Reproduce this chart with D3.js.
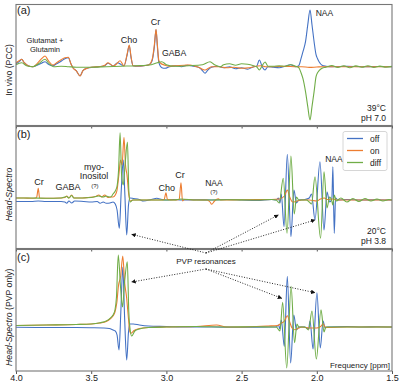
<!DOCTYPE html>
<html>
<head>
<meta charset="utf-8">
<script src="https://cdn.jsdelivr.net/npm/d3@7"></script>
<style>
body { margin: 0; background: #fff; }
text { font-family: "Liberation Sans", Arial, sans-serif; fill: #222; }
</style>
</head>
<body>
<script>
// spectra: [ppm, amplitude (a.u.)]
// (a) in vivo PCC
let offA = [[4.000,3],[3.975,5.5],[3.962,7.4],[3.945,4],[3.920,1],[3.887,0],[3.860,1.5],[3.830,3.5],[3.807,5],[3.785,2.5],[3.754,1],[3.730,3],[3.700,5.5],[3.675,8],[3.652,9],[3.635,3],[3.621,-1],[3.600,-4],[3.574,-9],[3.555,-4],[3.528,-1.5],[3.488,-0.5],[3.450,0],[3.410,1],[3.388,3.5],[3.353,0.7],[3.325,4],[3.300,2],[3.282,1],[3.262,11],[3.247,21],[3.235,9],[3.222,1],[3.190,0.5],[3.150,1],[3.115,2],[3.095,6],[3.080,20],[3.069,37],[3.060,20],[3.050,4],[3.030,-1],[3.009,-1.6],[2.980,0],[2.940,0.8],[2.900,0],[2.860,1.5],[2.820,0.5],[2.780,-1],[2.760,-4],[2.743,-6.6],[2.725,-3.5],[2.700,-0.5],[2.660,0.5],[2.620,-1],[2.580,0],[2.540,-2],[2.500,-1],[2.460,-2.5],[2.420,0],[2.400,0.5],[2.382,6.7],[2.363,0],[2.344,-3.3],[2.325,0],[2.290,-0.5],[2.250,-1],[2.210,0.5],[2.175,2],[2.140,0],[2.120,1],[2.105,8],[2.092,15],[2.075,25],[2.060,42],[2.045,56.7],[2.032,42],[2.018,25],[2.005,12],[1.995,8],[1.985,5],[1.965,1.5],[1.940,0.5],[1.900,0],[1.800,0.3],[1.700,0],[1.600,0.2],[1.500,0]];
let onA = [[4.000,4],[3.975,6.5],[3.962,7.4],[3.945,4],[3.920,1],[3.887,0],[3.860,3],[3.830,8],[3.807,10.7],[3.785,6],[3.754,1.7],[3.730,4],[3.700,7],[3.675,9],[3.652,9.4],[3.635,3],[3.621,-1.3],[3.600,-4],[3.574,-9.3],[3.555,-4],[3.528,-1.6],[3.488,-0.3],[3.450,0],[3.410,1.5],[3.388,4],[3.353,0.7],[3.330,3],[3.308,6],[3.282,0.7],[3.262,12],[3.247,21.7],[3.235,10],[3.222,1],[3.190,0.7],[3.150,1],[3.115,2],[3.095,7],[3.080,22],[3.069,37.4],[3.060,22],[3.050,6],[3.040,3.7],[3.010,1.5],[2.980,0.5],[2.940,1],[2.880,1.5],[2.843,1.7],[2.810,0.5],[2.780,-1],[2.760,-2.5],[2.743,-3.3],[2.720,-1.5],[2.700,0],[2.650,0],[2.600,-1],[2.550,-0.5],[2.500,-1.5],[2.450,-1],[2.400,0.5],[2.370,1],[2.340,0],[2.300,0],[2.200,0.3],[2.150,0],[2.100,0],[2.050,-0.7],[2.000,-0.3],[1.950,0],[1.800,0],[1.500,0]];
let diffA = [[4.000,2],[3.962,4],[3.930,1],[3.887,0],[3.850,3],[3.807,7.4],[3.780,3],[3.750,0],[3.700,0.5],[3.650,0],[3.600,-0.5],[3.500,-0.5],[3.400,0],[3.300,0.5],[3.200,1],[3.100,2],[3.060,4],[3.031,5],[3.000,2],[2.950,0.5],[2.850,1],[2.760,2],[2.710,5],[2.680,2],[2.640,0],[2.620,2],[2.580,3],[2.540,1.5],[2.500,3],[2.460,2.5],[2.420,1],[2.400,0],[2.382,-3.3],[2.363,1],[2.344,4.7],[2.325,0.5],[2.290,0.5],[2.250,1],[2.210,0.5],[2.175,2],[2.140,0.5],[2.120,-1],[2.105,-6],[2.092,-12],[2.075,-25],[2.060,-40],[2.045,-53.3],[2.032,-40],[2.018,-25],[2.005,-10],[1.995,-6],[1.985,-4],[1.965,-1.5],[1.940,-0.5],[1.900,1.2],[1.860,-0.8],[1.820,1],[1.780,-1],[1.740,0.8],[1.700,-0.6],[1.660,1],[1.620,-0.8],[1.580,0.6],[1.540,-0.5],[1.500,0.3]];

// (b) Head-Spectro phantom
let offB = [[4.000,-1.5],[3.900,-1.5],[3.852,-1],[3.800,-1.5],[3.700,-1.5],[3.675,-2],[3.663,-3.3],[3.648,-1],[3.630,-3],[3.610,-1],[3.550,-1.5],[3.500,-2],[3.460,-1.5],[3.441,-3.3],[3.420,-2],[3.400,-3.3],[3.375,-3],[3.355,-2],[3.340,-4],[3.328,-10],[3.313,-28.3],[3.300,10],[3.287,40],[3.276,5],[3.264,-35],[3.252,-5],[3.242,2],[3.220,1.5],[3.180,0.5],[3.153,-1],[3.100,0.5],[3.064,1.7],[3.030,0.5],[3.000,0],[2.950,0.5],[2.900,0],[2.800,0.3],[2.700,0],[2.600,0.5],[2.500,0],[2.400,-0.5],[2.300,0.5],[2.270,0],[2.255,2],[2.245,-3],[2.236,6],[2.218,-26.7],[2.196,45.7],[2.172,-36.7],[2.152,10],[2.135,-3],[2.120,0],[2.080,0.5],[2.050,2],[2.035,6],[2.012,-20],[1.979,38.3],[1.952,-30],[1.932,8],[1.915,-2],[1.900,1],[1.893,33.3],[1.884,-33.3],[1.875,2],[1.860,0],[1.800,0.5],[1.700,0],[1.600,0.3],[1.500,0]];
let onB = [[4.000,2],[3.950,2],[3.900,1.7],[3.870,2],[3.862,3],[3.852,11.7],[3.843,2],[3.800,1.7],[3.700,2],[3.675,2.5],[3.663,4],[3.648,2],[3.630,5],[3.615,2],[3.560,2],[3.520,2.5],[3.470,3.5],[3.450,5],[3.430,3],[3.410,5],[3.390,2.5],[3.370,3],[3.355,3],[3.340,5],[3.328,10],[3.316,25],[3.305,40],[3.295,35],[3.282,62.7],[3.272,35],[3.262,25],[3.250,5],[3.240,-1],[3.220,0],[3.100,0],[3.030,0],[3.015,0.5],[3.003,7.3],[2.993,0.5],[2.950,0],[2.915,0.5],[2.903,17.3],[2.893,-1],[2.880,0.5],[2.800,0],[2.730,0],[2.710,-2],[2.699,-4.3],[2.680,-1],[2.655,1.3],[2.640,0],[2.500,0.3],[2.300,0.5],[2.250,1],[2.215,4],[2.196,10],[2.180,3],[2.160,-2],[2.130,-1],[2.100,0],[2.050,0],[2.000,-1],[1.975,1],[1.950,2],[1.930,0.5],[1.890,1],[1.870,0],[1.800,0],[1.500,0]];
let diffB = [[4.000,2],[3.900,2],[3.800,1.7],[3.700,2],[3.663,3.5],[3.648,2],[3.630,4.5],[3.615,2],[3.500,2.5],[3.450,4],[3.420,3],[3.400,4],[3.380,3],[3.370,3],[3.355,6],[3.340,9],[3.328,14],[3.318,30],[3.308,67.3],[3.298,25],[3.287,15],[3.275,35],[3.259,58],[3.250,10],[3.240,-2],[3.225,0],[3.100,0],[2.950,0],[2.903,1],[2.800,0],[2.700,0],[2.600,0.3],[2.400,0],[2.300,0.5],[2.270,0],[2.250,-3],[2.223,21.7],[2.198,-33.3],[2.172,44],[2.150,-14],[2.135,3],[2.120,0],[2.070,0],[2.050,-2],[2.035,-4],[2.012,23.3],[1.975,-38.3],[1.952,28.3],[1.932,-8],[1.915,3],[1.900,-1],[1.893,-5],[1.884,5],[1.870,-1],[1.840,2],[1.800,-2],[1.760,1.5],[1.720,-1.5],[1.680,1.5],[1.640,-1],[1.600,1],[1.560,-1],[1.520,0.5],[1.500,0]];

// (c) Head-Spectro, PVP only
let offC = [[4.000,-0.3],[3.800,-0.5],[3.600,-0.5],[3.500,-0.7],[3.420,-1],[3.380,-1.5],[3.355,-3],[3.340,-4],[3.328,-8],[3.315,-23],[3.303,15],[3.290,60],[3.278,10],[3.264,-33],[3.252,-5],[3.242,3],[3.220,3],[3.180,2],[3.120,1],[3.000,0.5],[2.900,0],[2.700,0],[2.500,-0.3],[2.300,0],[2.270,0],[2.255,2],[2.245,-2],[2.236,7],[2.216,-19.4],[2.196,50.6],[2.174,-36],[2.153,12],[2.135,-3],[2.120,0],[2.080,0],[2.065,-1],[2.055,-2],[2.045,6],[2.025,-22],[1.999,34.3],[1.977,-21],[1.958,6],[1.945,-1],[1.930,0],[1.800,0.5],[1.700,0],[1.600,0.3],[1.500,0]];
let onC = [[4.000,1.5],[3.800,2],[3.600,2.5],[3.500,3],[3.441,4],[3.400,5.5],[3.375,8],[3.355,11],[3.342,15],[3.330,24],[3.318,42],[3.305,50],[3.290,71],[3.278,45],[3.265,30],[3.252,8],[3.245,-3],[3.237,-6.3],[3.215,-3.5],[3.180,-1.5],[3.120,-0.5],[3.000,0],[2.800,0.5],[2.666,2],[2.600,0],[2.400,0.5],[2.324,1],[2.260,1.5],[2.235,4],[2.215,6],[2.196,11.3],[2.180,5],[2.165,-1],[2.145,-2.7],[2.120,-1],[2.100,0],[2.050,-1],[2.000,-1],[1.975,0.5],[1.957,3.3],[1.945,0],[1.930,-0.5],[1.800,0],[1.500,0]];
let diffC = [[4.000,1.5],[3.800,2],[3.600,2.5],[3.500,3],[3.441,4.3],[3.400,6],[3.375,8.7],[3.355,12],[3.342,17],[3.332,30],[3.320,72],[3.305,40],[3.292,20],[3.278,45],[3.260,65.3],[3.250,15],[3.240,-4],[3.231,-9],[3.210,-4],[3.180,-2],[3.120,-0.5],[3.000,0],[2.800,0.5],[2.600,0],[2.400,0.3],[2.300,0],[2.270,0],[2.245,-4],[2.227,24.6],[2.200,-41],[2.171,40.6],[2.148,-15.7],[2.132,3],[2.120,0],[2.080,0],[2.055,-3],[2.032,16],[2.003,-32],[1.972,17.3],[1.952,-5],[1.940,0],[1.800,0],[1.500,0]];

let seriesNames = ["off", "on", "diff"];
let xTicks = [4.0, 3.5, 3.0, 2.5, 2.0, 1.5];

// where the "PVP resonances" arrows point: [panel, ppm, amplitude]
let pvpTargets = [["b",3.231,-34.3],["c",3.231,45],["b",2.256,-15],["b",2.012,-20],["c",2.233,28.7],["c",2.012,34.3]];

function main() {

    let svg = d3.select("body").append("svg")
        .attr("width", 400)
        .attr("height", 388);

    let colors = d3.scaleOrdinal().domain(seriesNames)
        .range(["#4472c4", "#ed7d31", "#70ad47"]);

    let xScale = d3.scaleLinear().domain([4.0, 1.5]).range([16, 392]);

    let panels = [
        {id: "a", top: 4.5, bottom: 125.5, domain: [-58.8, 62.2], data: [offA, onA, diffA]},
        {id: "b", top: 126.5, bottom: 248.5, domain: [-48.5, 73.5], data: [offB, onB, diffB]},
        {id: "c", top: 249.5, bottom: 371, domain: [-44, 77.5], data: [offC, onC, diffC]}
    ];
    let byId = {};

    panels.forEach(function(p) {
        byId[p.id] = p;
        p.y = d3.scaleLinear().domain(p.domain).range([p.bottom, p.top]);

        svg.append("clipPath").attr("id", "clip-" + p.id)
            .append("rect")
            .attr("x", 16).attr("y", p.top)
            .attr("width", 376).attr("height", p.bottom - p.top);

        let line = d3.line()
            .x(d => xScale(d[0]))
            .y(d => p.y(d[1]))
            .curve(d3.curveMonotoneX);

        let g = svg.append("g").attr("clip-path", `url(#clip-${p.id})`);
        g.selectAll("path")
            .data(p.data)
            .enter()
            .append("path")
            .attr("d", line)
            .attr("fill", "none")
            .attr("stroke", (d, i) => colors(seriesNames[i]))
            .attr("stroke-width", 1.1)
            .attr("stroke-linejoin", "round");

        // ticks under each panel
        let axis = svg.append("g")
            .attr("transform", `translate(0,${p.bottom})`)
            .call(d3.axisBottom(xScale).tickValues(xTicks).tickSize(3).tickPadding(1)
                .tickFormat(p.id == "c" ? d3.format(".1f") : ""));
        axis.select(".domain").remove();
        axis.selectAll("line").attr("stroke", "#555");
        axis.selectAll("text")
            .style("font-family", "'Liberation Sans', Arial, sans-serif")
            .style("font-size", "9px")
            .attr("fill", "#222");

        svg.append("rect")
            .attr("x", 16).attr("y", p.top)
            .attr("width", 376).attr("height", p.bottom - p.top)
            .attr("fill", "none")
            .attr("stroke", "#777")
            .attr("stroke-width", 1.1);

        svg.append("text")
            .attr("x", 17)
            .attr("y", p.top + (p.id == "a" ? 9 : 11.5))
            .style("font-size", "11px")
            .text(`(${p.id})`);
    });

    // peak labels, placed in data units
    let labels = [
        ["a", "Glutamat +", 3.807, 24, "middle", 7.5],
        ["a", "Glutamin", 3.807, 15, "middle", 7.5],
        ["a", "Cho", 3.249, 24.2, "middle", 9],
        ["a", "Cr", 3.072, 41.7, "middle", 9],
        ["a", "GABA", 3.029, 10.7, "start", 8.7],
        ["a", "NAA", 2.007, 51, "start", 8.5],
        ["b", "Cr", 3.847, 15, "middle", 9],
        ["b", "GABA", 3.654, 10, "middle", 9],
        ["b", "myo-", 3.481, 30, "middle", 9],
        ["b", "Inositol", 3.481, 20.7, "middle", 9],
        ["b", "(?)", 3.475, 12, "middle", 6],
        ["b", "Cho", 2.998, 9, "middle", 9],
        ["b", "Cr", 2.910, 22.5, "middle", 9],
        ["b", "NAA", 2.684, 14.5, "middle", 8.5],
        ["b", "(?)", 2.684, 6.5, "middle", 6],
        ["b", "NAA", 1.886, 38, "middle", 8.5]
    ];
    labels.forEach(function(l) {
        let p = byId[l[0]];
        svg.append("text")
            .attr("x", xScale(l[2]))
            .attr("y", p.y(l[3]))
            .attr("text-anchor", l[4])
            .style("font-size", l[5] + "px")
            .text(l[1]);
    });

    // temperature / pH notes
    [["a", "39°C", "pH 7.0"], ["b", "20°C", "pH 3.8"]].forEach(function(n) {
        let p = byId[n[0]];
        svg.append("text").attr("x", 386).attr("y", p.bottom - 14.5)
            .attr("text-anchor", "end").style("font-size", "8.5px").text(n[1]);
        svg.append("text").attr("x", 386).attr("y", p.bottom - 5)
            .attr("text-anchor", "end").style("font-size", "8.5px").text(n[2]);
    });

    // y labels
    let yl = [["a", "In vivo (PCC)", ""], ["b", "Head-Spectro", ""], ["c", "Head-Spectro", " (PVP only)"]];
    yl.forEach(function(t) {
        let p = byId[t[0]];
        let cy = (p.top + p.bottom) / 2 + (t[0] == "a" ? 5 : 7);
        let txt = svg.append("text")
            .attr("transform", `translate(11.5,${cy}) rotate(-90)`)
            .attr("text-anchor", "middle")
            .style("font-size", "8.7px");
        txt.append("tspan").style("font-style", t[0] == "a" ? "normal" : "italic").text(t[1]);
        if (t[2]) txt.append("tspan").text(t[2]);
    });

    svg.append("text")
        .attr("x", 390).attr("y", byId.c.bottom - 3.5)
        .attr("text-anchor", "end")
        .style("font-size", "8px")
        .text("Frequency [ppm]");

    // legend in panel b
    let pb = byId.b;
    let legend = svg.append("g").attr("transform", `translate(343,${pb.top + 5})`);
    legend.append("rect")
        .attr("width", 44).attr("height", 39).attr("rx", 2)
        .attr("fill", "#fff").attr("fill-opacity", 0.85)
        .attr("stroke", "#ccc").attr("stroke-width", 0.8);
    seriesNames.forEach(function(s, i) {
        let yy = 7 + i * 12;
        legend.append("line")
            .attr("x1", 4).attr("x2", 20).attr("y1", yy).attr("y2", yy)
            .attr("stroke", colors(s)).attr("stroke-width", 1.3);
        legend.append("text")
            .attr("x", 27).attr("y", yy + 3)
            .style("font-size", "8.5px")
            .text(s);
    });

    // PVP resonances annotation with dotted arrows
    let pc = byId.c;
    let tx = xScale(2.737), ty = pc.y(66);
    svg.append("defs").append("marker")
        .attr("id", "head")
        .attr("viewBox", "0 0 10 10")
        .attr("refX", 9).attr("refY", 5)
        .attr("markerWidth", 4.5).attr("markerHeight", 4.5)
        .attr("markerUnits", "userSpaceOnUse")
        .attr("orient", "auto")
        .append("path").attr("d", "M0,0L10,5L0,10z").attr("fill", "#111");

    pvpTargets.forEach(function(t) {
        let p = byId[t[0]];
        let ex = xScale(t[1]), ey = p.y(t[2]);
        let sy = ey < ty ? ty - 8 : ty + 8;
        svg.append("line")
            .attr("x1", tx).attr("y1", sy)
            .attr("x2", ex).attr("y2", ey)
            .attr("stroke", "#111")
            .attr("stroke-width", 0.9)
            .attr("stroke-dasharray", "1,1.6")
            .attr("marker-end", "url(#head)");
    });

    svg.append("text")
        .attr("x", tx).attr("y", ty)
        .attr("text-anchor", "middle")
        .attr("dominant-baseline", "central")
        .style("font-size", "8px")
        .text("PVP resonances");
}

main()
</script>
</body>
</html>
